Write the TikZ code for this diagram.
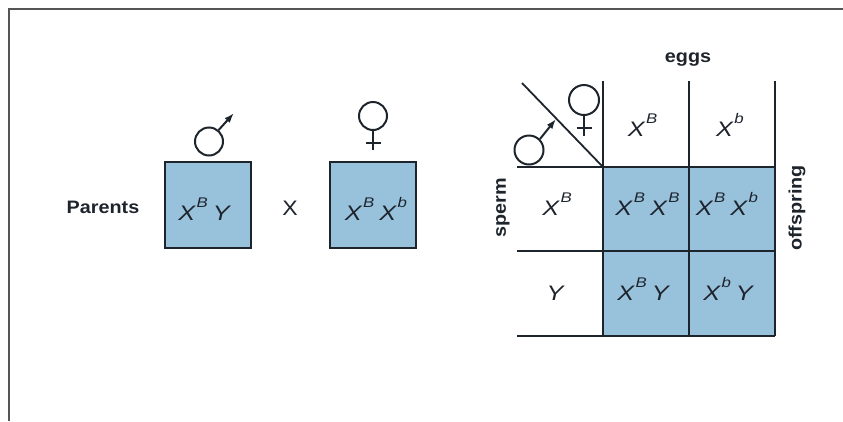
\documentclass[tikz,border=0pt]{standalone}
\usepackage{fontspec}
\setmainfont{Liberation Sans}
\newfontfamily\labelfont[FakeStretch=1.1]{Liberation Sans}
\newfontfamily\allelefont[FakeStretch=1.2]{Liberation Sans}
\usetikzlibrary{arrows.meta}

\definecolor{cellblue}{RGB}{152,194,220}
\definecolor{ink}{RGB}{30,36,44}
\definecolor{framegray}{RGB}{85,85,85}

% allele with its raised superscript
\newcommand\gene[1]{X\kern1.5pt\raisebox{13pt}{\fontsize{14}{14}\selectfont #1}}
\newcommand\gap{\hspace{5pt}}

\tikzset{
  heading/.style={font=\labelfont\bfseries\fontsize{18}{20}\selectfont, text=ink, inner sep=0pt, anchor=base},
  allele/.style={font=\allelefont\itshape\fontsize{21}{24}\selectfont, text=ink, inner sep=0pt, anchor=base},
  parentbox/.style={draw=ink, line width=2pt, fill=cellblue, minimum width=86pt,
                    minimum height=86pt, inner sep=0pt},
  gridline/.style={draw=ink, line width=1.8pt},
  sexsym/.style={draw=ink, line width=2pt},
  marsarrow/.style={sexsym, -{Latex[length=10pt,width=7pt]}},
}

\begin{document}
\begin{tikzpicture}[x=1pt, y=-1pt]
  \useasboundingbox (0,0) rectangle (843,421);

  % frame
  \draw[framegray, line width=2pt] (8.5,421) -- (8.5,8.5) -- (843,8.5);

  % ---- parents ----
  \node[heading] (parents) at (103,213) {Parents};
  \node[parentbox] (dad) at (208,205) {};
  \node[allele] (dadtxt) at (204,220) {\gene{B}\gap Y};
  \node[font=\labelfont\fontsize{21}{24}\selectfont, text=ink, inner sep=0pt, anchor=base] (cross) at (290,215) {X};
  \node[parentbox] (mom) at (372.5,205) {};
  \node[allele] (momtxt) at (376,220) {\gene{B}\gap\gene{b}};

  % male symbol above the father
  \node[sexsym, circle, minimum size=28pt, inner sep=0pt] (dadring) at (209,141.5) {};
  \coordinate (dadtip) at (234,113);
  \draw[marsarrow] (dadring.50) -- (dadtip);

  % female symbol above the mother
  \node[sexsym, circle, minimum size=28pt, inner sep=0pt] (momring) at (373,116) {};
  \coordinate (momfoot) at (373,150);
  \coordinate (mombarL) at (365.5,142.5);
  \coordinate (mombarR) at (380.5,142.5);
  \draw[sexsym] (momring.south) -- (momfoot);
  \draw[sexsym] (mombarL) -- (mombarR);

  % ---- Punnett square ----
  \coordinate (g00) at (603,167);
  \coordinate (g22) at (775,336);
  \fill[cellblue] (g00) rectangle (g22);

  \coordinate (v1t) at (603,81);  \coordinate (v1b) at (603,336);
  \coordinate (v2t) at (689,81);  \coordinate (v2b) at (689,336);
  \coordinate (v3t) at (775,81);  \coordinate (v3b) at (775,336);
  \coordinate (h1l) at (517,167); \coordinate (h1r) at (775,167);
  \coordinate (h2l) at (517,251); \coordinate (h2r) at (775,251);
  \coordinate (h3l) at (517,336); \coordinate (h3r) at (775,336);
  \coordinate (diagtop) at (522,83);

  \draw[gridline] (v1t) -- (v1b);
  \draw[gridline] (v2t) -- (v2b);
  \draw[gridline] (v3t) -- (v3b);
  \draw[gridline] (h1l) -- (h1r);
  \draw[gridline] (h2l) -- (h2r);
  \draw[gridline] (h3l) -- (h3r);
  \draw[gridline] (diagtop) -- (g00);

  % corner symbols
  \node[sexsym, circle, minimum size=30pt, inner sep=0pt] (eggring) at (584,100) {};
  \coordinate (eggfoot) at (584,136);
  \coordinate (eggbarL) at (576.5,127.5);
  \coordinate (eggbarR) at (591.5,127.5);
  \draw[sexsym] (eggring.south) -- (eggfoot);
  \draw[sexsym] (eggbarL) -- (eggbarR);

  \node[sexsym, circle, minimum size=29pt, inner sep=0pt] (spermring) at (529,150) {};
  \coordinate (spermtip) at (556,119);
  \draw[marsarrow] (spermring.45) -- (spermtip);

  % axis labels
  \node[heading] (eggs) at (688,62) {eggs};
  \node[heading, anchor=center, rotate=90] (sperm) at (503,208) {sperm};
  \node[heading, anchor=center, rotate=90] (offspring) at (797,208) {offspring};

  % gametes
  \node[allele] (eggB) at (642.5,136) {\gene{B}};
  \node[allele] (eggb) at (730,136) {\gene{b}};
  \node[allele] (spermB) at (557,215) {\gene{B}};
  \node[allele] (spermY) at (555,300) {Y};

  % offspring genotypes
  \node[allele] (kidBB) at (647.5,215) {\gene{B}\gap\gene{B}};
  \node[allele] (kidBb) at (727,215) {\gene{B}\gap\gene{b}};
  \node[allele] (kidBY) at (643,300) {\gene{B}\gap Y};
  \node[allele] (kidbY) at (728,300) {\gene{b}\gap Y};
\end{tikzpicture}
\end{document}
